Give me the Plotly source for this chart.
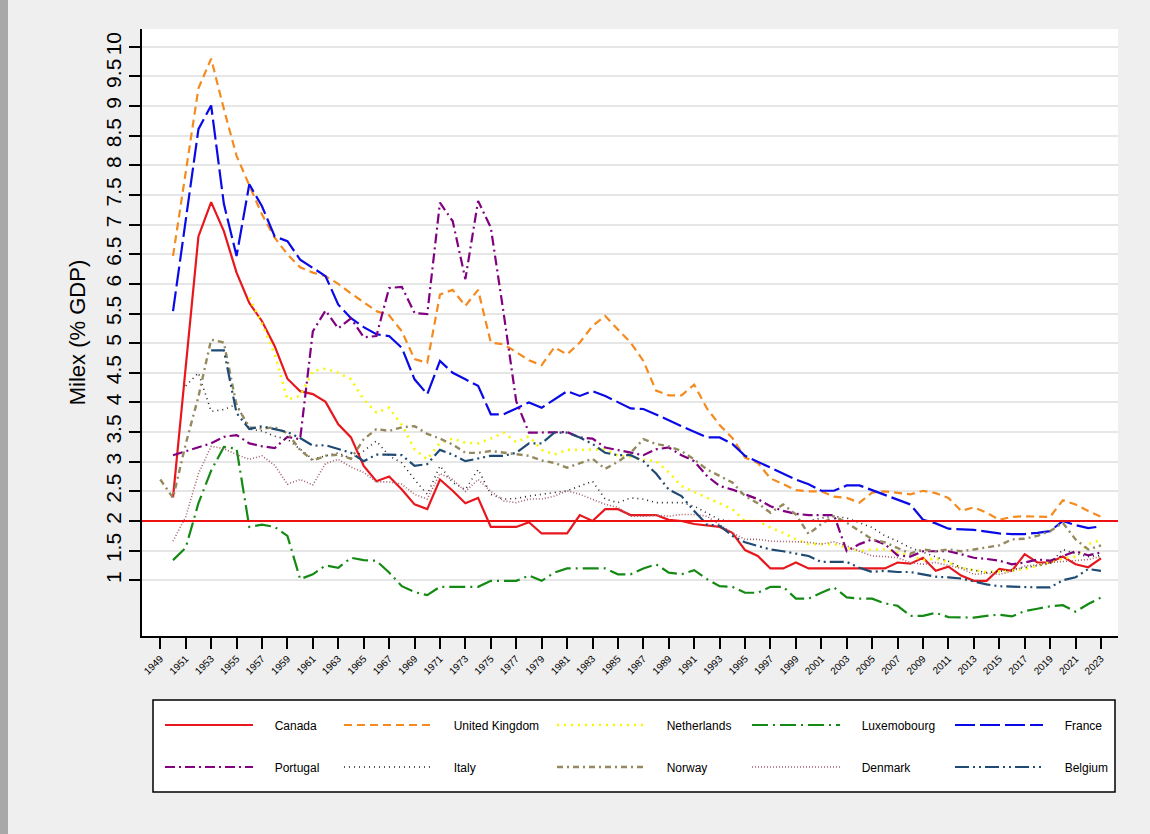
import plotly.graph_objects as go

years = list(range(1949, 2024))

canada = [None,
    2.40, 4.60, 6.80, 7.38, 6.89, 6.19, 5.68, 5.37, 4.95, 4.40,
    4.19, 4.14, 4.01, 3.63, 3.41, 2.93, 2.67, 2.75, 2.53, 2.28,
    2.20, 2.70, 2.51, 2.30, 2.39, 1.90, 1.90, 1.90, 1.98, 1.79,
    1.79, 1.79, 2.10, 2.00, 2.20, 2.20, 2.10, 2.10, 2.10, 2.02,
    2.00, 1.95, 1.92, 1.90, 1.80, 1.51, 1.41, 1.20, 1.20, 1.30,
    1.20, 1.20, 1.20, 1.20, 1.20, 1.20, 1.20, 1.30, 1.28, 1.38,
    1.16, 1.23, 1.08, 0.99, 0.99, 1.19, 1.16, 1.44, 1.30, 1.30,
    1.40, 1.27, 1.22, 1.37]

united_kingdom = [None,
    6.47, 7.90, 9.30, 9.80, 8.95, 8.16, 7.68, 7.17, 6.78, 6.50,
    6.28, 6.19, 6.13, 6.00, 5.84, 5.69, 5.54, 5.47, 5.20, 4.73,
    4.67, 5.82, 5.90, 5.63, 5.90, 5.01, 4.98, 4.85, 4.71, 4.63,
    4.93, 4.81, 5.01, 5.29, 5.46, 5.23, 5.01, 4.70, 4.20, 4.12,
    4.12, 4.30, 3.90, 3.62, 3.40, 3.07, 2.98, 2.72, 2.62, 2.52,
    2.50, 2.50, 2.41, 2.39, 2.31, 2.48, 2.50, 2.48, 2.45, 2.51,
    2.47, 2.39, 2.17, 2.23, 2.14, 2.02, 2.07, 2.08, 2.08, 2.07,
    2.35, 2.28, 2.17, 2.07]

netherlands = [None, None, None, None, None, None, None,
    5.77, 5.33, 4.81, 4.05,
    4.11, 4.53, 4.57, 4.50, 4.39, 4.05, 3.83, 3.91, 3.62, 3.21,
    3.04, 3.32, 3.39, 3.32, 3.31, 3.39, 3.49, 3.33, 3.43, 3.20,
    3.12, 3.20, 3.20, 3.20, 3.21, 3.10, 3.08, 3.03, 3.01, 2.82,
    2.59, 2.49, 2.39, 2.30, 2.20, 2.00, 2.00, 1.89, 1.80, 1.69,
    1.61, 1.61, 1.61, 1.55, 1.49, 1.52, 1.52, 1.47, 1.42, 1.34,
    1.37, 1.30, 1.21, 1.17, 1.14, 1.15, 1.16, 1.19, 1.24, 1.30,
    1.37, 1.40, 1.61, 1.68]

luxembourg = [None,
    1.34, 1.55, 2.30, 2.85, 3.25, 3.22, 1.90, 1.94, 1.90, 1.75,
    1.02, 1.10, 1.25, 1.21, 1.38, 1.34, 1.33, 1.13, 0.90, 0.80,
    0.75, 0.89, 0.89, 0.89, 0.89, 0.99, 0.99, 0.99, 1.08, 0.99,
    1.13, 1.20, 1.20, 1.20, 1.20, 1.10, 1.10, 1.20, 1.27, 1.13,
    1.10, 1.17, 1.02, 0.90, 0.89, 0.79, 0.79, 0.89, 0.89, 0.69,
    0.69, 0.79, 0.88, 0.71, 0.69, 0.69, 0.61, 0.57, 0.40, 0.40,
    0.45, 0.38, 0.38, 0.37, 0.40, 0.42, 0.39, 0.48, 0.52, 0.56,
    0.58, 0.47, 0.60, 0.71]

france = [None,
    5.54, 7.10, 8.61, 9.01, 7.35, 6.47, 7.68, 7.31, 6.80, 6.72,
    6.41, 6.27, 6.13, 5.65, 5.42, 5.27, 5.15, 5.12, 4.92, 4.39,
    4.14, 4.70, 4.50, 4.39, 4.28, 3.80, 3.80, 3.90, 4.00, 3.91,
    4.05, 4.19, 4.11, 4.19, 4.11, 4.00, 3.90, 3.89, 3.80, 3.70,
    3.60, 3.50, 3.41, 3.41, 3.30, 3.10, 3.00, 2.90, 2.80, 2.70,
    2.62, 2.51, 2.51, 2.60, 2.60, 2.52, 2.45, 2.37, 2.28, 2.02,
    1.96, 1.87, 1.86, 1.85, 1.82, 1.79, 1.78, 1.78, 1.80, 1.83,
    2.00, 1.93, 1.88, 1.91]

portugal = [None,
    3.11, 3.18, 3.24, 3.31, 3.42, 3.45, 3.31, 3.26, 3.23, 3.42,
    3.38, 5.20, 5.55, 5.25, 5.42, 5.10, 5.12, 5.93, 5.95, 5.51,
    5.49, 7.37, 7.06, 6.08, 7.40, 6.95, 5.52, 4.02, 3.49, 3.49,
    3.50, 3.50, 3.41, 3.39, 3.24, 3.20, 3.16, 3.11, 3.21, 3.24,
    3.11, 3.01, 2.76, 2.59, 2.53, 2.45, 2.37, 2.25, 2.17, 2.12,
    2.10, 2.10, 2.10, 1.49, 1.61, 1.69, 1.61, 1.42, 1.40, 1.49,
    1.49, 1.49, 1.44, 1.38, 1.36, 1.33, 1.27, 1.30, 1.35, 1.33,
    1.41, 1.49, 1.42, 1.47]

italy = [None, None,
    4.28, 4.50, 3.85, 3.88, 3.97, 3.55, 3.52, 3.43, 3.38,
    3.21, 3.04, 3.10, 3.15, 3.05, 3.18, 3.35, 3.10, 2.98, 2.70,
    2.45, 2.93, 2.65, 2.53, 2.87, 2.45, 2.37, 2.38, 2.42, 2.45,
    2.48, 2.51, 2.59, 2.67, 2.37, 2.31, 2.39, 2.37, 2.31, 2.31,
    2.31, 2.25, 2.14, 2.02, 2.00, 2.00, 2.00, 2.00, 2.00, 2.00,
    2.00, 2.05, 2.08, 2.05, 1.97, 1.89, 1.75, 1.66, 1.55, 1.47,
    1.40, 1.32, 1.21, 1.17, 1.13, 1.15, 1.18, 1.22, 1.25, 1.28,
    1.52, 1.45, 1.40, 1.42]

norway = [2.70,
    2.39, 3.30, 4.10, 5.06, 5.01, 3.95, 3.58, 3.56, 3.58, 3.48,
    3.20, 3.02, 3.10, 3.12, 3.05, 3.38, 3.55, 3.52, 3.58, 3.60,
    3.47, 3.39, 3.29, 3.15, 3.15, 3.18, 3.15, 3.12, 3.10, 3.02,
    2.98, 2.90, 2.98, 3.05, 2.88, 3.00, 3.15, 3.38, 3.30, 3.26,
    3.18, 3.04, 2.87, 2.76, 2.65, 2.42, 2.30, 2.14, 2.28, 2.11,
    1.78, 1.95, 2.08, 1.97, 1.83, 1.69, 1.64, 1.55, 1.45, 1.52,
    1.49, 1.52, 1.49, 1.52, 1.56, 1.59, 1.69, 1.70, 1.75, 1.83,
    1.97, 1.69, 1.52, 1.59]

denmark = [None,
    1.66, 2.07, 2.80, 3.26, 3.22, 3.12, 3.04, 3.10, 2.94, 2.62,
    2.70, 2.61, 2.97, 3.04, 2.91, 2.82, 2.66, 2.66, 2.62, 2.45,
    2.37, 2.80, 2.70, 2.50, 2.70, 2.50, 2.34, 2.31, 2.37, 2.37,
    2.42, 2.51, 2.45, 2.37, 2.28, 2.23, 2.08, 2.08, 2.10, 2.08,
    2.11, 2.11, 2.08, 1.94, 1.80, 1.69, 1.69, 1.66, 1.66, 1.65,
    1.64, 1.61, 1.65, 1.58, 1.49, 1.41, 1.40, 1.38, 1.30, 1.27,
    1.30, 1.25, 1.20, 1.10, 1.12, 1.10, 1.15, 1.24, 1.26, 1.30,
    1.32, 1.33, 1.35, 1.40]

belgium = [None, None, None, None,
    4.88, 4.88, 3.82, 3.55, 3.60, 3.55, 3.50,
    3.40, 3.27, 3.28, 3.21, 3.15, 3.01, 3.12, 3.12, 3.11, 2.93,
    2.96, 3.20, 3.12, 3.01, 3.05, 3.10, 3.10, 3.15, 3.31, 3.31,
    3.49, 3.49, 3.41, 3.30, 3.15, 3.11, 3.11, 3.01, 2.80, 2.53,
    2.42, 2.17, 1.94, 1.92, 1.75, 1.64, 1.58, 1.52, 1.49, 1.45,
    1.41, 1.31, 1.31, 1.31, 1.21, 1.14, 1.16, 1.14, 1.14, 1.10,
    1.06, 1.05, 1.03, 0.98, 0.93, 0.90, 0.89, 0.88, 0.88, 0.88,
    1.00, 1.05, 1.19, 1.16]

y_ticks = [1, 1.5, 2, 2.5, 3, 3.5, 4, 4.5, 5, 5.5, 6, 6.5, 7, 7.5, 8, 8.5, 9, 9.5, 10]
y_tick_labels = ["1", "1.5", "2", "2.5", "3", "3.5", "4", "4.5", "5", "5.5",
                 "6", "6.5", "7", "7.5", "8", "8.5", "9", "9.5", "10"]
x_ticks = list(range(1949, 2024, 2))

# plot area in pixels
L, R, T, B = 142, 1118, 29, 636
W_PX, H_PX = R - L, B - T

def px_x(p):
    return (p - L) / W_PX

def px_y(p):
    return (B - p) / H_PX

series = [
    ("Canada", canada, "#E8171D", 2.2, "solid"),
    ("United Kingdom", united_kingdom, "#F58A1F", 2.2, "8px,5px"),
    ("Netherlands", netherlands, "#F7F700", 2.6, "2px,5px"),
    ("Luxemobourg", luxembourg, "#148A14", 2.2, "16px,5px,2px,5px"),
    ("France", france, "#0A0AE6", 2.2, "20px,5px"),
    ("Portugal", portugal, "#800080", 2.2, "10px,4px,2px,4px"),
    ("Italy", italy, "#222222", 1.6, "1px,4px"),
    ("Norway", norway, "#958A5E", 2.4, "6px,4px,2px,4px"),
    ("Denmark", denmark, "#A4606C", 1.6, "1px,2px"),
    ("Belgium", belgium, "#1F4A73", 2.2, "14px,4px,2px,4px,2px,4px"),
]

# legend layout: (sample start px, row center px)
col_starts = [165, 344, 557, 752, 955]
row_centers = [725, 767]
GAP = "\u00a0" * 5

fig = go.Figure()
layout_legends = {}
for i, (name, vals, color, width, dash) in enumerate(series):
    key = "legend" if i == 0 else f"legend{i + 1}"
    fig.add_trace(go.Scatter(
        x=years, y=vals, mode="lines", name=GAP + name,
        line=dict(color=color, width=width, dash=dash),
        connectgaps=False, legend=key, showlegend=True,
    ))
    col = i % 5
    row = i // 5
    layout_legends[key] = dict(
        x=px_x(col_starts[col] - 5), y=px_y(row_centers[row]),
        xanchor="left", yanchor="middle",
        bgcolor="rgba(0,0,0,0)", borderwidth=0,
        font=dict(family="Liberation Sans, Arial, sans-serif", size=12, color="#000000"),
        itemwidth=88, orientation="h",
    )

# legend frame
fig.add_shape(type="rect", xref="paper", yref="paper",
              x0=px_x(153), x1=px_x(1115), y0=px_y(792), y1=px_y(700),
              fillcolor="#FFFFFF", line=dict(color="#000000", width=1.5), layer="below")
# left window strip
fig.add_shape(type="rect", xref="paper", yref="paper",
              x0=px_x(-2), x1=px_x(8), y0=px_y(840), y1=px_y(-5),
              fillcolor="#A8A8A8", line=dict(width=0), layer="below")

# reference line at 2
fig.add_shape(type="line", xref="paper", yref="y", x0=0, x1=1, y0=2, y1=2,
              line=dict(color="#EE1111", width=2), layer="above")

fig.update_layout(
    width=1150, height=834,
    margin=dict(l=L, r=1150 - R, t=T, b=834 - B),
    paper_bgcolor="#EFEFEF", plot_bgcolor="#FFFFFF",
    font=dict(family="Liberation Sans, Arial, sans-serif", color="#000000"),
    showlegend=True,
    **layout_legends,
)

fig.update_xaxes(
    range=[1947.56, 2024.34], tickmode="array", tickvals=x_ticks,
    ticktext=[str(t) for t in x_ticks], tickangle=-45,
    tickfont=dict(size=10), ticks="outside", ticklen=11, tickwidth=1.5,
    tickcolor="#000000", showline=True, linecolor="#000000", linewidth=2,
    showgrid=False, zeroline=False,
)
fig.update_yaxes(
    range=[0.06, 10.3], tickmode="array", tickvals=y_ticks, ticktext=y_tick_labels,
    tickangle=-90, tickfont=dict(size=21), ticks="outside", ticklen=11, tickwidth=1.5,
    tickcolor="#000000", showline=True, linecolor="#000000", linewidth=2,
    showgrid=True, gridcolor="#E6E6E6", gridwidth=2, zeroline=False,
    title=dict(text="Milex (% GDP)", font=dict(size=22), standoff=10),
)

fig.write_html(
    "out.html",
    config={"displayModeBar": False},
    post_script="document.body.style.margin='0';document.body.style.overflow='hidden';document.body.style.background='#EFEFEF';",
)
